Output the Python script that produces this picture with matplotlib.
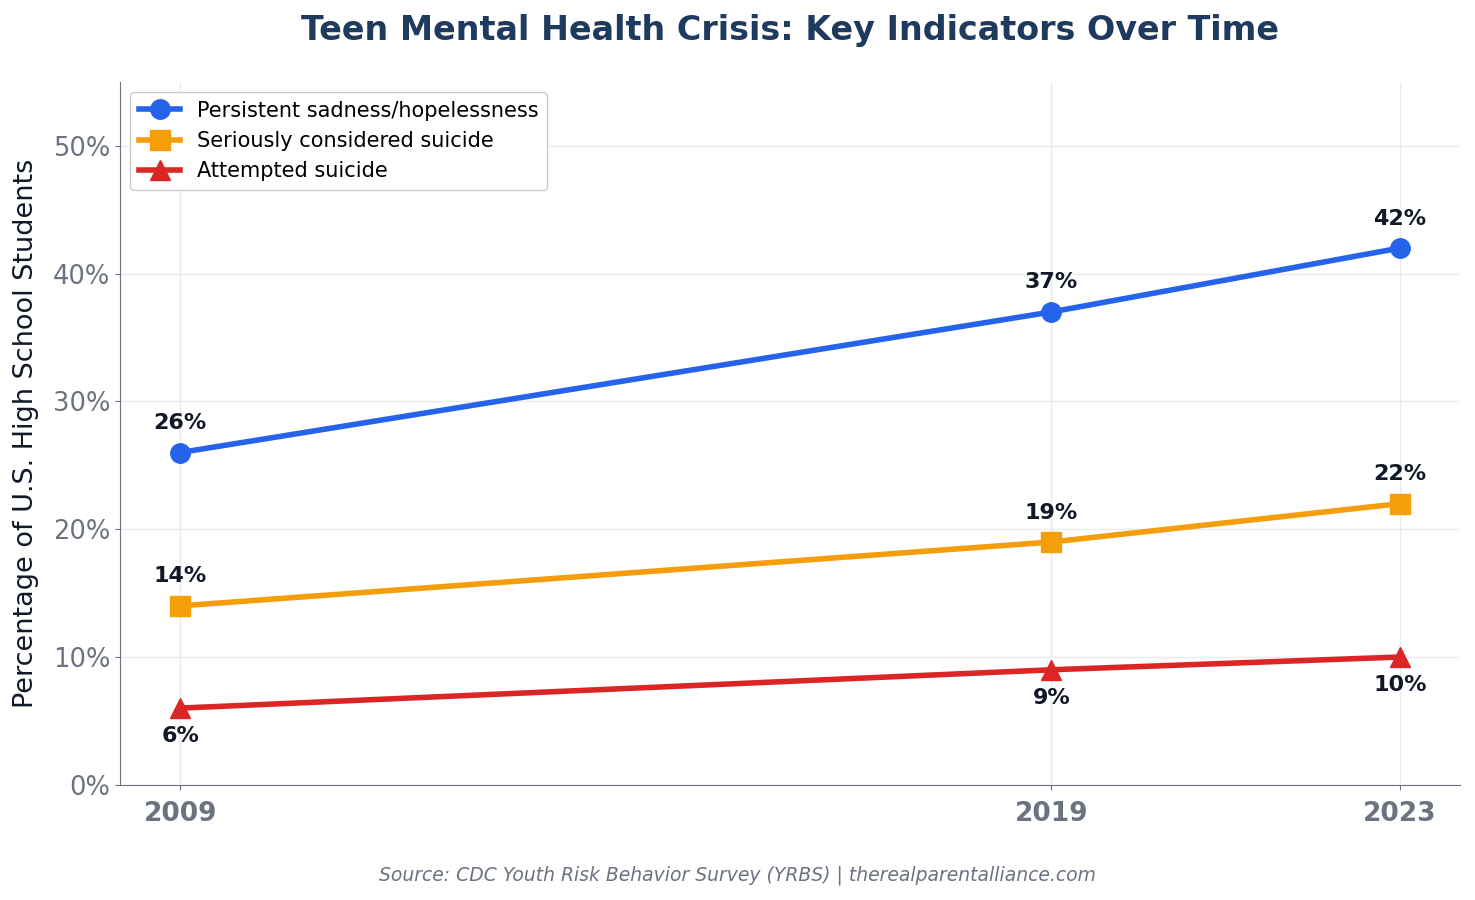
import matplotlib
matplotlib.use("Agg")
import matplotlib.pyplot as plt
from matplotlib.ticker import FuncFormatter

years = [2009, 2019, 2023]
sadness = [26, 37, 42]
considered = [14, 19, 22]
attempted = [6, 9, 10]

series = [
    ("Persistent sadness/hopelessness", sadness, "#2563eb", "o", 14),
    ("Seriously considered suicide", considered, "#f59e0b", "s", 14),
    ("Attempted suicide", attempted, "#dc2626", "^", -13),
]

fig = plt.figure(figsize=(14.75, 9), dpi=100)
ax = fig.add_axes([0.0814, 0.128, 0.9085, 0.781])

for label, vals, color, marker, dy in series:
    ax.plot(years, vals, color=color, marker=marker, linewidth=4, markersize=14, label=label)
    for x, y in zip(years, vals):
        ax.annotate(f"{y}%", (x, y), xytext=(0, dy), textcoords="offset points",
                    ha="center", va="bottom" if dy > 0 else "top",
                    fontsize=16, fontweight="bold", color="#111827")

ax.set_xlim(2008.31, 2023.69)
ax.set_ylim(0, 55)
ax.set_xticks(years)
ax.set_xticklabels([str(y) for y in years], fontsize=19, fontweight="bold", color="#6b7280")
ax.set_yticks(range(0, 51, 10))
ax.yaxis.set_major_formatter(FuncFormatter(lambda v, _: f"{v:.0f}%"))
ax.tick_params(axis="y", labelsize=18.5, labelcolor="#6b7280", color="#6b7280")
ax.tick_params(axis="x", color="#6b7280", pad=8)
ax.grid(True, color="#e5e7eb", alpha=0.8, linewidth=1)
ax.set_axisbelow(True)
for s in ["top", "right"]:
    ax.spines[s].set_visible(False)
for s in ["left", "bottom"]:
    ax.spines[s].set_color("#6b7280")

ax.set_ylabel("Percentage of U.S. High School Students", fontsize=19.5, color="#111827", labelpad=10)
ax.set_title("Teen Mental Health Crisis: Key Indicators Over Time", fontsize=24,
             fontweight="bold", color="#1e3a5f", pad=30)
ax.legend(loc="upper left", fontsize=15, framealpha=1, edgecolor="#cccccc")

fig.text(0.5, 0.022, "Source: CDC Youth Risk Behavior Survey (YRBS) | therealparentalliance.com",
         ha="center", fontsize=13.5, style="italic", color="#6b7280")

fig.savefig("out.png", dpi=100)
